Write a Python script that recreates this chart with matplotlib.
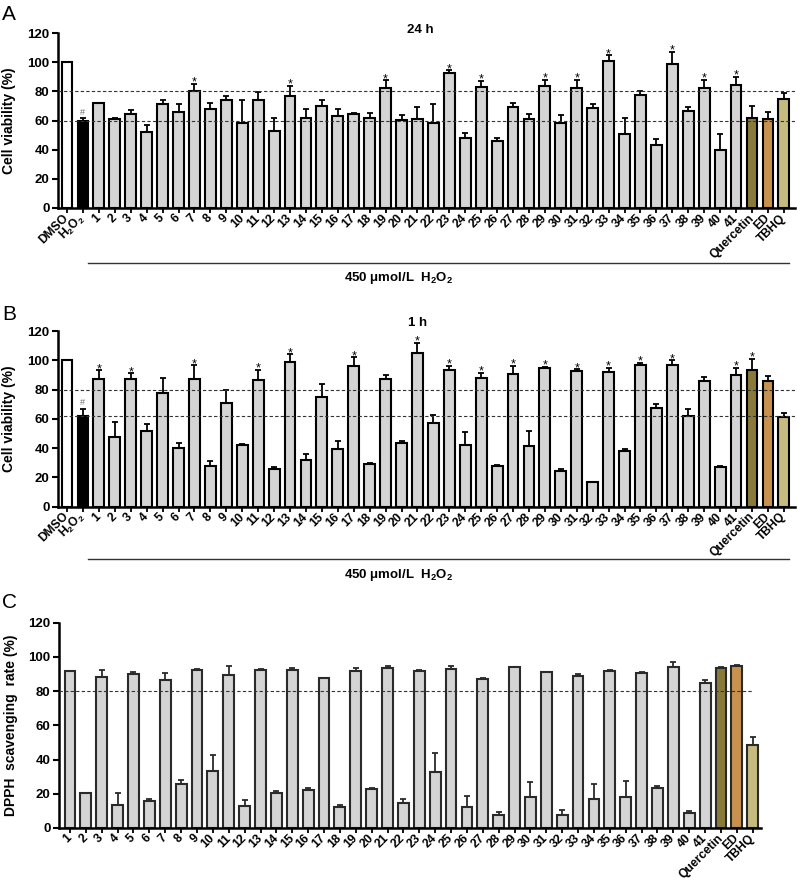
import numpy as np
import matplotlib.pyplot as plt
from matplotlib.transforms import blended_transform_factory

plt.rcParams['font.family'] = ['Liberation Sans', 'DejaVu Sans']
plt.rcParams['mathtext.default'] = 'regular'

compounds = [str(i) for i in range(1, 42)]
labels_ab = ['DMSO', 'H$_2$O$_2$'] + compounds + ['Quercetin', 'ED', 'TBHQ']
labels_c = compounds + ['Quercetin', 'ED', 'TBHQ']

# panel A, 24 h cell viability (%)
via_24h = [100, 60, 72, 61, 64.3, 52.2, 71.6, 66, 80.3, 68.2, 74.4, 58.6, 74.4, 52.7,
           76.7, 62, 69.8, 63, 64.6, 62, 82, 60.2, 61, 58.4, 92.6, 47.7, 83, 45.8,
           69.4, 61, 83.5, 58.4, 82, 68.7, 100.6, 50.6, 77.8, 43, 99, 66.4, 82.6,
           39.7, 84.2, 62, 61.1, 75]
sd_24h = [0, 1.5, 0.3, 1, 2.7, 4.8, 2.4, 5, 4.7, 3.8, 2.6, 15.4, 5.2, 8.7,
          7.3, 6, 4.6, 5, 0.6, 3.2, 5.6, 3.8, 8.4, 12.6, 1.9, 3.8, 4, 2.2,
          2.9, 3.8, 4.5, 5.2, 6, 2.5, 4.1, 11.2, 2.1, 4, 8, 3, 5.4,
          10.8, 5.7, 8, 4.6, 4]
star_24h = ['7', '13', '19', '23', '25', '29', '31', '33', '37', '39', '41']

# panel B, 1 h cell viability (%)
via_1h = [100, 61.9, 87, 47.4, 87.2, 51.7, 77.4, 40.3, 87.2, 27.7, 70.5, 41.9, 86.8, 25.9,
          99, 32, 75, 39.2, 96, 28.9, 87, 43.5, 105, 57, 93.4, 42.1, 88.1, 27.8,
          90.6, 41.7, 94.5, 24.5, 92.9, 17, 91.8, 38.2, 97, 67.6, 96.6, 62, 85.8,
          27.3, 90, 93.4, 85.6, 61]
sd_1h = [0, 5.1, 6, 10.6, 3.8, 4.8, 10.6, 3.4, 9.4, 3.7, 9.2, 1.1, 6.6, 0.9,
         5, 3.7, 8.6, 5.9, 6, 1.1, 3, 1.3, 7, 5.7, 2.6, 8.7, 3.4, 0.6,
         5.7, 10, 1.2, 1.2, 0.9, 0, 2.9, 1, 1, 2.4, 3.4, 4.4, 3,
         0.5, 5, 7.6, 3.9, 2.8]
star_1h = ['1', '3', '7', '11', '13', '17', '21', '23', '25', '27', '29', '31', '33',
           '35', '37', '41', 'Quercetin']

# panel C, DPPH scavenging rate (%)
dpph = [91.7, 20.2, 88.4, 13.2, 90.3, 15.7, 86.4, 25.7, 92.4, 33.4, 89.7, 12.8, 92.4,
        20.2, 92.4, 22.5, 87.8, 12.4, 91.7, 22.9, 93.8, 14.8, 91.9, 32.8, 93.2, 12,
        86.8, 7.6, 94, 18.3, 90.9, 7.6, 89.1, 16.9, 91.5, 18.1, 90.7, 23.5, 94.2,
        8.6, 84.9, 93.6, 94.6, 48.4]
sd_dpph = [0.3, 0.4, 4.2, 7, 0.6, 1.2, 4.3, 2.1, 0.4, 9, 5.1, 3.3, 0.4,
           1.6, 1.4, 1, 0, 0.8, 1.9, 0.4, 0.6, 2.1, 0.3, 11.1, 1.6, 6.6,
           1, 1.5, 0.2, 8.3, 0.4, 3.1, 0.8, 9, 1.1, 9.5, 0.6, 0.8, 2.9,
           1.1, 1.5, 0.4, 0.4, 4.9]

gray = '#d4d4d4'
std_colors = ['#8a7a3a', '#c8924e', '#c5bb7e']
colors_ab = ['white', 'black'] + [gray] * 41 + std_colors
colors_c = [gray] * 41 + std_colors


def draw(ax, vals, sds, labels, colors, edge, stars, ylabel, xlim):
    x = np.arange(len(vals))
    vals = np.array(vals)
    sds = np.array(sds)
    ax.bar(x, vals, width=0.68, color=colors, edgecolor=edge, linewidth=1.5, zorder=2)
    m = sds > 0
    ax.errorbar(x[m], vals[m], yerr=[np.zeros(m.sum()), sds[m]], fmt='none',
                ecolor=edge, elinewidth=1.3, capsize=2.5, capthick=1.3, zorder=1)
    for s in stars:
        i = labels.index(s)
        ax.text(i, vals[i] + sds[i] - 1.2, '*', ha='center', va='baseline', fontsize=9)
    ax.set_xlim(*xlim)
    ax.set_ylim(0, 120)
    ax.set_yticks(range(0, 121, 20))
    ax.set_xticks(x)
    ax.set_xticklabels(labels, rotation=45, ha='right', va='center', rotation_mode='anchor',
                       fontweight='bold', fontsize=8.7)
    for t in ax.get_yticklabels():
        t.set_fontweight('bold')
        t.set_fontsize(9.5)
    ax.tick_params(axis='y', length=4, width=1.5, pad=2)
    ax.tick_params(axis='x', length=3.5, width=1.3, pad=2.5)
    ax.spines['top'].set_visible(False)
    ax.spines['right'].set_visible(False)
    ax.spines['left'].set_linewidth(1.8)
    ax.spines['bottom'].set_linewidth(1.8)
    ax.set_ylabel(ylabel, fontweight='bold', fontsize=10)


fig = plt.figure(figsize=(7.97, 8.81), dpi=100)

# ---- A
axA = fig.add_axes([58 / 797, 1 - 208 / 881, 737 / 797, 175 / 881])
draw(axA, via_24h, sd_24h, labels_ab, colors_ab, 'black', star_24h,
     'Cell viability (%)', (-0.565, 45.7))
axA.text(1, via_24h[1] + sd_24h[1] + 1, '#', ha='center', va='bottom', fontsize=6.5, color='#707070')
axA.axhline(80, color='#333333', lw=0.8, ls=(0, (3, 2)), zorder=3)
axA.axhline(60, color='#333333', lw=0.8, ls=(0, (3, 2)), zorder=3)
axA.text(22.2, 122, '24 h', ha='center', va='center', fontweight='bold', fontsize=9.5)
axA.yaxis.set_label_coords(-42 / 737, 0.5)
tr = blended_transform_factory(axA.transData, axA.transAxes)
axA.plot([1.3, 45.3], [-0.314, -0.314], transform=tr, clip_on=False, color='#333333', lw=1)
axA.text(20.8, -0.40, '450 μmol/L  H$_2$O$_2$', transform=tr, ha='center', va='center',
         fontweight='bold', fontsize=9.5)

# ---- B
axB = fig.add_axes([58 / 797, 1 - 506.5 / 881, 737 / 797, 175.5 / 881])
draw(axB, via_1h, sd_1h, labels_ab, colors_ab, 'black', star_1h,
     'Cell viability (%)', (-0.565, 45.7))
axB.text(1, via_1h[1] + sd_1h[1] + 1, '#', ha='center', va='bottom', fontsize=6.5, color='#707070')
axB.axhline(80, color='#333333', lw=0.8, ls=(0, (3, 2)), zorder=3)
axB.axhline(62, color='#333333', lw=0.8, ls=(0, (3, 2)), zorder=3)
axB.text(22.0, 125.5, '1 h', ha='center', va='center', fontweight='bold', fontsize=9.5)
axB.yaxis.set_label_coords(-42 / 737, 0.5)
tr = blended_transform_factory(axB.transData, axB.transAxes)
axB.plot([1.3, 45.3], [-0.299, -0.299], transform=tr, clip_on=False, color='#333333', lw=1)
axB.text(20.8, -0.39, '450 μmol/L  H$_2$O$_2$', transform=tr, ha='center', va='center',
         fontweight='bold', fontsize=9.5)

# ---- C
axC = fig.add_axes([59 / 797, 1 - 828 / 881, 702 / 797, 205.3 / 881])
draw(axC, dpph, sd_dpph, labels_c, colors_c, '#2a2a2a', [],
     'DPPH  scavenging  rate (%)', (-0.69, 43.52))
axC.axhline(80, xmax=0.989, color='#333333', lw=0.8, ls=(0, (3, 2)), zorder=3)
axC.yaxis.set_label_coords(-41 / 702, 0.5)

fig.text(2 / 797, 1 - 20 / 881, 'A', fontsize=15, va='baseline')
fig.text(2 / 797, 1 - 320 / 881, 'B', fontsize=15, va='baseline')
fig.text(2 / 797, 1 - 608 / 881, 'C', fontsize=15, va='baseline')

fig.savefig('out.png', dpi=100)
